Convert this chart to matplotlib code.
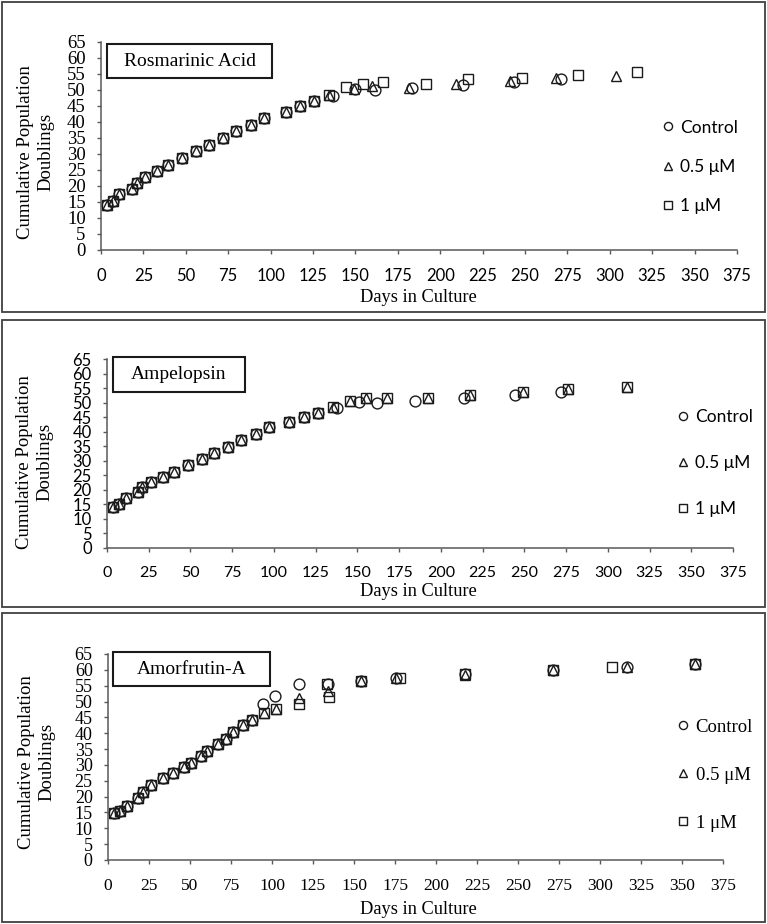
import matplotlib
matplotlib.use('Agg')
import matplotlib.pyplot as plt
from matplotlib.patches import Rectangle

SERIF = 'Liberation Serif'
SANS = 'Lato'

# ---- Rosmarinic Acid ----
ra_ctrl_days = [3.3, 6.9, 10.8, 18.1, 21, 25.9, 32.8, 39.7, 47.6, 56, 63.9, 71.7, 79.6, 88.4, 96.3,
                108.9, 117.3, 125.6, 136.8, 149.6, 161.6, 183.2, 213.6, 243.5, 271.2]
ra_ctrl_cpd = [14.1, 15.4, 17.5, 19.0, 20.8, 22.9, 24.8, 26.6, 28.6, 30.9, 32.8, 35.1, 37.1, 39.1, 41.1,
               43.1, 45.0, 46.6, 48.2, 50.2, 50.0, 50.6, 51.6, 52.4, 53.4]
ra_05_days = [3.3, 6.9, 10.8, 18.1, 21, 25.9, 32.8, 39.7, 47.6, 56, 63.9, 71.7, 79.6, 88.4, 96.3,
              108.9, 117.3, 125.6, 134.5, 149.0, 159.6, 181.8, 209.3, 241.2, 268.3, 303.5]
ra_05_cpd = [14.1, 15.4, 17.5, 19.0, 20.8, 22.9, 24.8, 26.6, 28.6, 30.9, 32.8, 35.1, 37.1, 39.1, 41.1,
             43.1, 45.0, 46.6, 48.4, 50.4, 51.1, 50.6, 51.9, 52.7, 53.6, 54.5]
ra_1_days = [3.3, 6.9, 10.8, 18.1, 21, 25.9, 32.8, 39.7, 47.6, 56, 63.9, 71.7, 79.6, 88.4, 96.3,
             108.9, 117.3, 125.6, 134.5, 144.5, 154.5, 166.5, 191.4, 216.6, 248.4, 281.4, 316.2]
ra_1_cpd = [14.1, 15.4, 17.5, 19.0, 20.8, 22.9, 24.8, 26.6, 28.6, 30.9, 32.8, 35.1, 37.1, 39.1, 41.1,
            43.1, 45.0, 46.6, 48.4, 50.9, 52.0, 52.6, 52.0, 53.3, 53.9, 54.7, 55.7]

# ---- Ampelopsin ----
am_ctrl_days = [3.8, 7.4, 11.4, 18.4, 21.2, 26.4, 33.4, 40.3, 48.4, 56.7, 64.3, 72.3, 80.3, 89.1, 97.3,
                109.2, 118.2, 126.2, 137.6, 151.2, 162.0, 184.5, 214.1, 244.5, 272.0]
am_ctrl_cpd = [14.0, 15.1, 17.1, 19.2, 21.1, 22.8, 24.5, 26.2, 28.5, 30.6, 32.8, 34.8, 37.1, 39.2, 41.5,
               43.2, 45.2, 46.5, 48.2, 50.1, 49.8, 50.7, 51.7, 52.6, 53.5]
am_05_days = [3.8, 7.4, 11.4, 18.4, 21.2, 26.4, 33.4, 40.3, 48.4, 56.7, 64.3, 72.3, 80.3, 89.1, 97.3,
              109.2, 118.2, 126.2, 135.2, 145.6, 155.2, 167.6, 192.1, 217.5, 249.5, 276.4, 311.4]
am_05_cpd = [14.0, 15.1, 17.1, 19.2, 21.1, 22.8, 24.5, 26.2, 28.5, 30.6, 32.8, 34.8, 37.1, 39.2, 41.5,
             43.2, 45.2, 46.5, 48.6, 50.7, 51.7, 51.7, 51.6, 52.6, 53.8, 54.7, 55.5]
am_1_days = [3.8, 7.4, 11.4, 18.4, 21.2, 26.4, 33.4, 40.3, 48.4, 56.7, 64.3, 72.3, 80.3, 89.1, 97.3,
             109.2, 118.2, 126.2, 135.2, 145.6, 155.2, 167.6, 192.1, 217.5, 249.5, 276.4, 311.4]
am_1_cpd = [14.0, 15.1, 17.1, 19.2, 21.1, 22.8, 24.5, 26.2, 28.5, 30.6, 32.8, 34.8, 37.1, 39.2, 41.5,
            43.2, 45.2, 46.5, 48.6, 50.7, 51.7, 51.7, 51.6, 52.6, 53.8, 54.7, 55.5]

# ---- Amorfrutin-A ----
af_ctrl_days = [3.9, 7.3, 11.8, 18.1, 21.1, 26.2, 33.3, 39.4, 46.5, 50.4, 56.5, 60.2, 67.3, 71.8, 76, 82.1, 88,
                94.7, 101.8, 116.2, 134.0, 154.1, 175.4, 217.7, 271.5, 316.3, 358.0]
af_ctrl_cpd = [14.7, 15.5, 17.0, 19.7, 21.4, 23.7, 25.8, 27.4, 29.3, 30.7, 32.9, 34.4, 36.5, 38.2, 40.5, 42.6, 44.2,
               49.1, 51.8, 55.5, 55.5, 56.6, 57.3, 58.8, 60.0, 60.8, 61.7]
af_05_days = [3.9, 7.3, 11.8, 18.1, 21.1, 26.2, 33.3, 39.4, 46.5, 50.4, 56.5, 60.2, 67.3, 71.8, 76, 82.1, 88,
              95.1, 102.2, 116.2, 134.2, 154.1, 175.4, 217.7, 271.5, 316.3, 358.0]
af_05_cpd = [14.7, 15.5, 17.0, 19.7, 21.4, 23.7, 25.8, 27.4, 29.3, 30.7, 32.9, 34.4, 36.5, 38.2, 40.5, 42.6, 44.2,
             46.3, 47.8, 51.0, 53.2, 56.6, 57.3, 58.5, 60.0, 60.8, 61.7]
af_1_days = [3.9, 7.3, 11.8, 18.1, 21.1, 26.2, 33.3, 39.4, 46.5, 50.4, 56.5, 60.2, 67.3, 71.8, 76, 82.1, 88,
             95.1, 102.2, 116.2, 133.8, 134.5, 154.1, 178.3, 217.7, 271.5, 307.5, 358.0]
af_1_cpd = [14.7, 15.5, 17.0, 19.7, 21.4, 23.7, 25.8, 27.4, 29.3, 30.7, 32.9, 34.4, 36.5, 38.2, 40.5, 42.6, 44.2,
            46.3, 47.8, 49.1, 55.5, 51.5, 56.6, 57.5, 58.8, 60.0, 60.8, 61.7]

labels = ['Control', '0.5 μM', '1 μM']
markers = ['o', '^', 's']

W, H = 767, 924
fig = plt.figure(figsize=(W / 100, H / 100), dpi=100)


def fx(p):
    return p / W


def fy(p):
    return 1 - p / H


def panel(series, title, ax_px, frame_px, title_px, ylab_xy, xlab_xy, ytick_font, xtick_font,
          leg_font, leg_xy, leg_space):
    l, t, r, b = ax_px
    ax = fig.add_axes([fx(l), fy(b), (r - l) / W, (b - t) / H])
    for (d, c), lab, m in zip(series, labels, markers):
        ax.plot(d, c, ls='none', marker=m, ms=7.8, mfc='none', mec='#1a1a1a', mew=1.0, label=lab)
    ax.set_xlim(0, 375)
    ax.set_ylim(0, 65)
    ax.set_xticks(range(0, 376, 25))
    ax.set_yticks(range(0, 66, 5))
    for s in ['top', 'right']:
        ax.spines[s].set_visible(False)
    for s in ['left', 'bottom']:
        ax.spines[s].set_color('#595959')
        ax.spines[s].set_linewidth(1.1)
    ax.tick_params(axis='both', direction='out', length=3, width=1, color='#595959')
    ax.tick_params(axis='x', pad=10)
    ax.tick_params(axis='y', pad=8)
    for lbl in ax.get_yticklabels():
        lbl.set_fontfamily(ytick_font[0])
        lbl.set_fontsize(ytick_font[1])
    for lbl in ax.get_xticklabels():
        lbl.set_fontfamily(xtick_font[0])
        lbl.set_fontsize(xtick_font[1])
    ax.patch.set_alpha(0)

    fl, ft, fr, fb = frame_px
    fig.add_artist(Rectangle((fx(fl), fy(fb)), (fr - fl) / W, (fb - ft) / H, transform=fig.transFigure,
                             fill=False, lw=1.3, ec='#404040'))
    tl, tt, tr, tb = title_px
    fig.add_artist(Rectangle((fx(tl), fy(tb)), (tr - tl) / W, (tb - tt) / H, transform=fig.transFigure,
                             fill=True, fc='white', lw=1.5, ec='#1a1a1a', zorder=5))
    fig.text(fx((tl + tr) / 2), fy((tt + tb) / 2), title, ha='center', va='center',
             family=SERIF, fontsize=14, zorder=6)

    fig.text(fx(ylab_xy[0]), fy(ylab_xy[1]), 'Cumulative Population\nDoublings', rotation=90,
             ha='center', va='center', family=SERIF, fontsize=13.5, linespacing=1.3)
    fig.text(fx(xlab_xy[0]), fy(xlab_xy[1]), 'Days in Culture', ha='center', va='center',
             family=SERIF, fontsize=13.2)

    ax.legend(loc='center left', bbox_to_anchor=(fx(leg_xy[0]), fy(leg_xy[1])),
              bbox_transform=fig.transFigure, frameon=False, prop={'family': leg_font[0], 'size': leg_font[1]},
              handlelength=0.7, handletextpad=0.35, borderpad=0, borderaxespad=0,
              labelspacing=leg_space, markerscale=0.75)
    return ax


panel([(ra_ctrl_days, ra_ctrl_cpd), (ra_05_days, ra_05_cpd), (ra_1_days, ra_1_cpd)], 'Rosmarinic Acid',
      (101, 42, 737, 250), (2, 2, 765, 312), (107, 44, 272, 78), (36, 152), (418, 297),
      (SERIF, 13.5), (SANS, 12), (SANS, 12.5), (662, 167), 1.35)

panel([(am_ctrl_days, am_ctrl_cpd), (am_05_days, am_05_cpd), (am_1_days, am_1_cpd)], 'Ampelopsin',
      (107, 359, 733, 548), (2, 320, 765, 607), (113, 357, 245, 392), (35, 462), (418, 592),
      (SANS, 12), (SANS, 11.5), (SANS, 12.5), (677, 463), 1.75)

panel([(af_ctrl_days, af_ctrl_cpd), (af_05_days, af_05_cpd), (af_1_days, af_1_cpd)], 'Amorfrutin-A',
      (108, 654, 723, 860), (2, 613, 765, 922), (113, 652, 270, 686), (37, 762), (418, 910),
      (SERIF, 13), (SERIF, 12.5), (SERIF, 13.5), (676, 775), 1.65)

fig.savefig('out.png', dpi=100)
